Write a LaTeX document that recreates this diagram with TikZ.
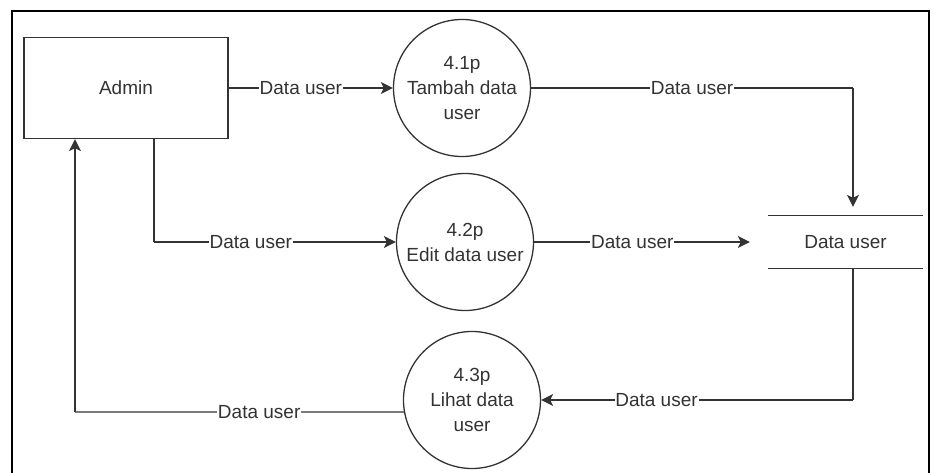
\documentclass[tikz,border=0pt]{standalone}
\usepackage{fontspec}
\setmainfont{Liberation Sans}
\usetikzlibrary{arrows.meta}
\definecolor{ink}{gray}{0.2}
\tikzset{
  entity/.style={draw=ink, line width=1.3pt, minimum width=204pt, minimum height=101pt, inner sep=0pt},
  proc/.style={draw=ink, line width=1.3pt, circle, minimum size=137pt, inner sep=0pt, align=center,
               font=\fontsize{19}{25}\selectfont, text=ink},
  store/.style={minimum width=155pt, minimum height=52pt, inner sep=0pt},
  flow/.style={draw=ink, line width=1.3pt, -{Stealth[length=12pt,width=12pt,inset=3pt]}},
  plain/.style={draw=ink, line width=1.3pt},
  lbl/.style={fill=white, inner sep=0.8pt, font=\fontsize{19}{21}\selectfont, text=ink},
}
\begin{document}
\begin{tikzpicture}[x=1pt,y=-1pt]
  \useasboundingbox (0,0) rectangle (935,472);
  % outer frame, open at the bottom edge
  \draw[line width=2.4pt, black] (12,490) -- (12,11) -- (929,11) -- (929,490);

  % external entity
  \node[entity, font=\fontsize{19}{21}\selectfont, text=ink] (admin) at (126,88) {Admin};

  % processes
  \node[proc] (p1) at (462,88) {4.1p\\Tambah data\\user};
  \node[proc] (p2) at (465,242) {4.2p\\Edit data user};
  \node[proc] (p3) at (472,400) {4.3p\\Lihat data\\user};

  % data store: two horizontal rules
  \node[store, font=\fontsize{19}{21}\selectfont, text=ink] (ds) at (845.5,242) {Data user};
  \draw[plain] (ds.north west) -- (ds.north east);
  \draw[plain] (ds.south west) -- (ds.south east);

  % bend points
  \coordinate (c1) at (853,88);
  \coordinate (c2) at (154,242);
  \coordinate (c3) at (75,412);

  % flows
  \draw[flow] (admin.east) -- node[lbl, pos=0.44] {Data user} (p1.west);
  \draw[plain] (p1.east) -- node[lbl, pos=0.5] {Data user} (c1);
  \draw[flow, shorten >=9pt] (c1) -- (c1 |- ds.north);

  \draw[plain] (admin.south -| c2) -- (c2);
  \draw[flow] (c2) -- node[lbl, pos=0.4] {Data user} (p2.west);

  \draw[flow, shorten >=18pt] (p2.east) -- node[lbl, pos=0.42] {Data user} (ds.west);

  \draw[plain] (ds.south -| c1) -- (c1 |- p3);
  \draw[flow] (c1 |- p3) -- node[lbl, pos=0.63] {Data user} (p3.east);

  \draw[plain] (p3.190) -- node[lbl, pos=0.44] {Data user} (c3);
  \draw[flow] (c3) -- (c3 |- admin.south);
\end{tikzpicture}
\end{document}
